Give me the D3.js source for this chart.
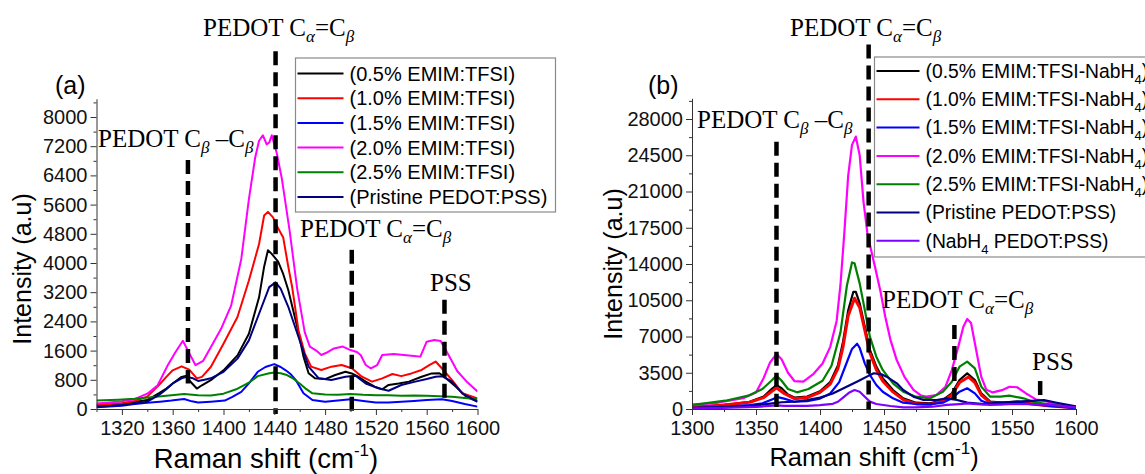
<!DOCTYPE html>
<html>
<head>
<meta charset="utf-8">
<script src="https://cdn.jsdelivr.net/npm/d3@7"></script>
<style>
  body { margin: 0; background: #fff; }
  svg { display: block; }
</style>
</head>
<body>
<svg id="chart" width="1145" height="474"></svg>
<script>
// ---------- data: panel (a), [Raman shift, intensity] ----------
const a_05 = [[1300,110],[1310,130],[1320,150],[1330,190],[1340,245],[1349,430],[1355,560],[1360,700],[1367,880],[1371,910],[1374,745],[1379,560],[1383,650],[1390,790],[1400,1060],[1411,1470],[1420,2060],[1428,3060],[1432,3900],[1435,4350],[1438,4250],[1443,4035],[1447,3700],[1451,3260],[1458,2255],[1463,1435],[1467,980],[1472,840],[1480,820],[1488,930],[1496,1020],[1501,975],[1506,885],[1512,750],[1519,610],[1525,540],[1530,660],[1538,700],[1546,750],[1556,885],[1564,975],[1570,980],[1574,880],[1578,760],[1583,610],[1591,340],[1600,200]];
const a_10 = [[1300,120],[1310,140],[1320,160],[1330,220],[1340,340],[1349,650],[1355,880],[1360,1060],[1367,1170],[1373,1080],[1379,840],[1383,880],[1390,1150],[1400,1790],[1411,2520],[1420,3520],[1428,4520],[1432,5300],[1435,5400],[1439,5250],[1443,4950],[1447,4700],[1451,3900],[1454,3350],[1459,2160],[1464,1525],[1469,1160],[1477,1070],[1485,1160],[1493,1205],[1501,1115],[1509,885],[1517,750],[1525,840],[1533,960],[1540,900],[1548,975],[1556,1070],[1562,1200],[1567,1300],[1571,1150],[1580,790],[1588,430],[1600,290]];
const a_15 = [[1300,45],[1310,70],[1320,90],[1330,140],[1340,170],[1350,200],[1359,230],[1369,275],[1375,210],[1380,180],[1390,200],[1401,230],[1407,330],[1414,470],[1420,700],[1427,1020],[1433,1150],[1440,1230],[1445,1150],[1449,1060],[1453,950],[1457,790],[1463,430],[1470,245],[1480,200],[1490,230],[1500,265],[1510,220],[1520,175],[1530,180],[1540,200],[1550,220],[1560,245],[1572,265],[1580,220],[1590,135],[1600,65]];
const a_20 = [[1300,150],[1310,180],[1320,210],[1330,270],[1340,420],[1348,640],[1356,1190],[1362,1550],[1368,1870],[1372,1600],[1378,1200],[1384,1320],[1390,1690],[1398,2190],[1406,2830],[1414,4110],[1420,5750],[1425,6900],[1428,7350],[1431,7500],[1434,7250],[1436,7300],[1438,7500],[1442,7000],[1446,6300],[1452,4900],[1458,3300],[1464,2100],[1468,1710],[1473,1600],[1477,1480],[1481,1540],[1487,1660],[1494,1710],[1500,1615],[1505,1560],[1508,1480],[1512,1205],[1516,1115],[1521,1205],[1525,1480],[1534,1506],[1542,1480],[1550,1450],[1555,1435],[1560,1845],[1566,1890],[1571,1860],[1577,1490],[1584,1040],[1592,730],[1600,480]];
const a_25 = [[1300,230],[1317,255],[1330,280],[1343,320],[1355,360],[1369,410],[1380,380],[1390,370],[1400,420],[1410,540],[1420,720],[1427,900],[1436,980],[1440,1000],[1445,980],[1450,930],[1455,830],[1460,700],[1465,550],[1470,430],[1480,400],[1490,390],[1500,410],[1510,390],[1520,380],[1530,375],[1540,365],[1550,370],[1560,365],[1570,350],[1580,335],[1590,300],[1600,265]];
const a_pr = [[1300,60],[1310,80],[1320,110],[1330,150],[1340,200],[1349,380],[1355,540],[1360,700],[1367,840],[1371,880],[1376,840],[1380,770],[1385,800],[1390,840],[1400,1020],[1411,1380],[1420,1880],[1428,2610],[1436,3340],[1441,3470],[1445,3300],[1451,2800],[1459,1980],[1467,1160],[1475,840],[1485,795],[1496,885],[1504,910],[1512,700],[1522,565],[1530,500],[1540,657],[1551,750],[1560,820],[1567,885],[1572,900],[1580,750],[1588,430],[1595,300],[1600,200]];

// ---------- data: panel (b) ----------
const b_05 = [[1300,200],[1315,300],[1330,450],[1345,700],[1356,1200],[1362,1900],[1366,2300],[1370,2000],[1375,1400],[1380,1100],[1390,1200],[1400,1700],[1408,2600],[1414,4200],[1418,6500],[1422,9500],[1426,11300],[1428,11300],[1431,10200],[1435,7950],[1439,5700],[1444,4090],[1449,2960],[1457,1830],[1465,1030],[1475,610],[1486,550],[1496,870],[1503,1510],[1509,2800],[1515,3440],[1521,2800],[1526,1510],[1533,710],[1543,610],[1554,710],[1564,550],[1580,350],[1600,130]];
const b_10 = [[1300,180],[1325,380],[1345,650],[1356,1100],[1366,2050],[1372,1500],[1380,1000],[1390,1100],[1400,1600],[1408,2400],[1414,3900],[1418,6000],[1422,9000],[1427,10700],[1431,9800],[1435,7600],[1439,5400],[1444,3800],[1449,2700],[1457,1650],[1465,900],[1475,500],[1486,450],[1496,780],[1503,1350],[1509,2550],[1516,3100],[1521,2550],[1526,1350],[1533,620],[1543,540],[1554,640],[1564,500],[1580,300],[1600,110]];
const b_15 = [[1300,100],[1315,170],[1330,250],[1345,380],[1355,550],[1362,900],[1367,1150],[1372,1000],[1380,700],[1390,750],[1400,1000],[1408,1500],[1415,2600],[1420,4200],[1425,5800],[1429,6300],[1431,5900],[1435,4410],[1439,3280],[1444,2320],[1449,1670],[1457,1030],[1465,610],[1475,480],[1486,450],[1496,610],[1503,1030],[1509,1670],[1515,2000],[1521,1510],[1526,800],[1533,480],[1543,480],[1554,610],[1564,480],[1580,300],[1600,80]];
const b_20 = [[1300,400],[1320,600],[1340,1050],[1350,1600],[1356,3000],[1361,4500],[1366,5300],[1370,4800],[1375,3500],[1380,2700],[1387,2650],[1395,3400],[1402,4400],[1408,6000],[1413,8500],[1416,12000],[1419,17000],[1422,22500],[1425,25500],[1428,26300],[1431,24500],[1434,20000],[1437,17000],[1440,15300],[1443,13700],[1447,11500],[1451,8900],[1455,6700],[1460,4700],[1466,3100],[1473,1850],[1479,1300],[1483,1200],[1491,1350],[1498,2150],[1503,3750],[1508,6000],[1512,7950],[1515,8700],[1518,8300],[1522,5700],[1526,3100],[1530,1850],[1535,1600],[1543,1850],[1548,2150],[1554,2100],[1561,1500],[1569,900],[1575,800],[1586,450],[1600,200]];
const b_25 = [[1300,390],[1313,600],[1326,800],[1344,1290],[1355,1930],[1362,2730],[1366,3220],[1370,2730],[1375,1930],[1382,1610],[1391,1930],[1402,2730],[1409,4180],[1416,7400],[1421,11900],[1425,14150],[1427,14060],[1431,12130],[1435,9560],[1439,6980],[1444,5050],[1449,3770],[1457,2480],[1465,1670],[1475,1190],[1486,1030],[1496,1670],[1503,2640],[1509,4090],[1515,4570],[1521,3930],[1526,2160],[1533,1190],[1541,1190],[1548,1290],[1559,1030],[1569,610],[1586,350],[1600,150]];
const b_pr = [[1300,80],[1315,140],[1330,200],[1350,350],[1366,600],[1370,650],[1380,700],[1390,850],[1400,1100],[1410,1500],[1420,2100],[1430,2700],[1437,3150],[1442,3450],[1448,3350],[1452,3120],[1460,2480],[1465,1830],[1473,1190],[1481,870],[1491,870],[1499,1030],[1507,870],[1515,610],[1528,480],[1541,610],[1554,710],[1569,800],[1575,850],[1585,600],[1600,250]];
const b_nb = [[1300,60],[1315,90],[1330,120],[1350,200],[1366,350],[1372,300],[1390,300],[1400,380],[1410,500],[1414,700],[1418,1100],[1423,1600],[1427,1830],[1431,1670],[1435,1190],[1439,710],[1444,480],[1455,290],[1465,160],[1475,160],[1488,220],[1499,390],[1509,480],[1515,550],[1522,480],[1533,390],[1548,480],[1564,480],[1580,400],[1600,150]];

// ---------- legend names, colours, ticks ----------
const namesA = ["(0.5% EMIM:TFSI)", "(1.0% EMIM:TFSI)", "(1.5% EMIM:TFSI)", "(2.0% EMIM:TFSI)", "(2.5% EMIM:TFSI)", "(Pristine PEDOT:PSS)"];
const namesB = ["(0.5% EMIM:TFSI-NabH|4|)", "(1.0% EMIM:TFSI-NabH|4|)", "(1.5% EMIM:TFSI-NabH|4|)", "(2.0% EMIM:TFSI-NabH|4|)", "(2.5% EMIM:TFSI-NabH|4|)", "(Pristine PEDOT:PSS)", "(NabH|4|  PEDOT:PSS)"];
const colours = ["#000000", "#ff0000", "#0000ff", "#ff00ff", "#008000", "#000080", "#8000ff"];

const xMajorA = d3.range(1320, 1601, 40);
const xMinorA = d3.range(1300, 1600, 40);
const yMajorA = d3.range(0, 8001, 800);
const yMinorA = d3.range(400, 8500, 800);
const xMajorB = d3.range(1300, 1601, 50);
const xMinorB = d3.range(1325, 1600, 50);
const yMajorB = d3.range(0, 28001, 3500);
const yMinorB = d3.range(1750, 30000, 3500);

const svg = d3.select("#chart");
const SANS = "'Liberation Sans', Arial, sans-serif";
const SERIF = "'Liberation Serif', 'DejaVu Serif', serif";

// text with subscript pieces: "abc|4|def" -> 4 is subscript
function richText(sel, str, subSize, shift) {
  str.split("|").forEach((part, i) => {
    if (part === "") return;
    const t = sel.append("tspan").text(part);
    if (i % 2 === 1) t.attr("font-size", subSize).attr("dy", shift);
    else if (i > 0) t.attr("dy", -shift);
  });
}

// PEDOT annotation, greek parts are italic subscripts
function annot(g, x, y, parts) {
  const t = g.append("text")
    .attr("x", x).attr("y", y)
    .attr("font-family", SERIF)
    .attr("font-size", 25)
    .attr("fill", "#000");
  let down = false;
  parts.forEach((p) => {
    const sp = t.append("tspan").text(p.t);
    if (p.sub) {
      sp.attr("font-size", 17).attr("font-style", "italic").attr("dy", 6);
      down = true;
    } else if (down) {
      sp.attr("dy", -6);
      down = false;
    }
  });
}

function drawPanel(cfg) {
  const g = svg.append("g");
  const x = d3.scaleLinear().domain([1300, 1600]).range(cfg.xRange);
  const y = d3.scaleLinear().domain(cfg.yDomain).range([409, cfg.yTop]);

  g.append("clipPath").attr("id", cfg.id + "-clip")
    .append("rect")
    .attr("x", cfg.xRange[0]).attr("y", cfg.yTop)
    .attr("width", cfg.xRange[1] - cfg.xRange[0])
    .attr("height", 409 - cfg.yTop);

  const line = d3.line()
    .x((d) => x(d[0]))
    .y((d) => y(d[1]));

  const plot = g.append("g").attr("clip-path", `url(#${cfg.id}-clip)`);
  plot.selectAll("path")
    .data(cfg.series)
    .enter()
    .append("path")
    .attr("d", (d) => line(d))
    .attr("fill", "none")
    .attr("stroke", (d, i) => colours[i])
    .attr("stroke-width", (d, i) => cfg.width(i))
    .attr("stroke-linejoin", "round");

  // dashed reference lines
  g.selectAll("line.marker")
    .data(cfg.markers)
    .enter()
    .append("line")
    .attr("class", "marker")
    .attr("x1", (d) => x(d[0])).attr("x2", (d) => x(d[0]))
    .attr("y1", (d) => y(d[1])).attr("y2", (d) => y(d[2]))
    .attr("stroke", "#000")
    .attr("stroke-width", 4.5)
    .attr("stroke-dasharray", "14,7");

  // axes
  const ax = g.append("g").attr("transform", "translate(0,409)")
    .call(d3.axisBottom(x).tickValues(cfg.xMajor).tickFormat(d3.format("d")).tickSize(6).tickSizeOuter(0));
  g.append("g").attr("transform", "translate(0,409)")
    .call(d3.axisBottom(x).tickValues(cfg.xMinor).tickFormat("").tickSize(3).tickSizeOuter(0))
    .select(".domain").remove();
  const ay = g.append("g").attr("transform", `translate(${cfg.xRange[0]},0)`)
    .call(d3.axisLeft(y).tickValues(cfg.yMajor).tickFormat(d3.format("d")).tickSize(6).tickSizeOuter(0));
  g.append("g").attr("transform", `translate(${cfg.xRange[0]},0)`)
    .call(d3.axisLeft(y).tickValues(cfg.yMinor).tickFormat("").tickSize(3).tickSizeOuter(0))
    .select(".domain").remove();
  [ax, ay].forEach((a) => {
    a.selectAll("text").attr("font-family", SANS).attr("font-size", 20).attr("fill", "#111");
  });
  ax.selectAll("text").attr("y", 12);
  g.selectAll(".domain, .tick line").attr("stroke", "#333");

  // axis titles
  g.append("text")
    .attr("transform", `translate(${cfg.yTitle[0]},${cfg.yTitle[1]}) rotate(-90)`)
    .attr("text-anchor", "middle")
    .attr("font-family", SANS).attr("font-size", 25)
    .text("Intensity (a.u)");
  const xt = g.append("text")
    .attr("x", cfg.xTitle[0]).attr("y", cfg.xTitle[1])
    .attr("text-anchor", "middle")
    .attr("font-family", SANS).attr("font-size", cfg.xTitle[2]);
  xt.append("tspan").text("Raman shift (cm");
  xt.append("tspan").text("-1").attr("font-size", 17).attr("dy", -12);
  xt.append("tspan").text(")").attr("dy", 12);

  // panel letter
  g.append("text")
    .attr("x", cfg.letter[0]).attr("y", cfg.letter[1])
    .attr("font-family", SANS).attr("font-size", 25)
    .text(cfg.letter[2]);

  cfg.annots.forEach((a) => annot(g, a[0], a[1], a[2]));

  // legend
  const lg = g.append("g");
  lg.append("rect")
    .attr("x", cfg.legend.x).attr("y", cfg.legend.y)
    .attr("width", cfg.legend.w).attr("height", cfg.legend.h)
    .attr("fill", "#fff").attr("stroke", "#8a8a8a").attr("stroke-width", 1.2);
  const rows = lg.selectAll("g.row")
    .data(cfg.names)
    .enter()
    .append("g")
    .attr("class", "row")
    .attr("transform", (d, i) => `translate(${cfg.legend.x},${cfg.legend.y0 + i * cfg.legend.step})`);
  rows.append("line")
    .attr("x1", 2).attr("x2", cfg.legend.sample)
    .attr("stroke", (d, i) => colours[i])
    .attr("stroke-width", 2);
  rows.append("text")
    .attr("x", cfg.legend.sample + 6)
    .attr("dy", "0.35em")
    .attr("font-family", SANS).attr("font-size", cfg.legend.font)
    .each(function (d) {
      richText(d3.select(this), d, 13, 6);
    });
}

const alpha = [{ t: "PEDOT C" }, { t: "α", sub: true }, { t: "=C" }, { t: "β", sub: true }];
const beta = [{ t: "PEDOT C" }, { t: "β", sub: true }, { t: " –C" }, { t: "β", sub: true }];

drawPanel({
  id: "pa",
  xRange: [96.5, 477.5],
  yDomain: [0, 8500],
  yTop: 409 - 8500 * 0.0365,
  series: [a_05, a_10, a_15, a_20, a_25, a_pr],
  width: () => 2,
  markers: [[1441, 9800, -140], [1372, 6820, 700], [1501, 4360, -140], [1574, 2990, 250]],
  xMajor: xMajorA, xMinor: xMinorA, yMajor: yMajorA, yMinor: yMinorA,
  yTitle: [31, 269],
  xTitle: [266, 468, 27.5],
  letter: [55, 94, "(a)"],
  annots: [[203, 36, alpha], [98, 147, beta], [300, 237, alpha], [430, 291, [{ t: "PSS" }]]],
  names: namesA,
  legend: { x: 295.5, y: 58, w: 260, h: 154, y0: 73.5, step: 24.7, sample: 48, font: 20 }
});

drawPanel({
  id: "pb",
  xRange: [692, 1076],
  yDomain: [0, 30000],
  yTop: 409 - 30000 * 0.010357,
  series: [b_05, b_10, b_15, b_20, b_25, b_pr, b_nb],
  width: (i) => (i === 1 ? 3 : 2.2),
  markers: [[1438, 35200, -100], [1366, 25800, 200], [1505, 8100, 970], [1572, 2700, 1260]],
  xMajor: xMajorB, xMinor: xMinorB, yMajor: yMajorB, yMinor: yMinorB,
  yTitle: [622, 264],
  xTitle: [874, 466, 25.5],
  letter: [648, 94, "(b)"],
  annots: [[790, 36, alpha], [697, 128, beta], [882, 308, alpha], [1032, 370, [{ t: "PSS" }]]],
  names: namesB,
  legend: { x: 874.5, y: 57, w: 300, h: 200, y0: 71, step: 28.3, sample: 45, font: 19.3 }
});
</script>
</body>
</html>
